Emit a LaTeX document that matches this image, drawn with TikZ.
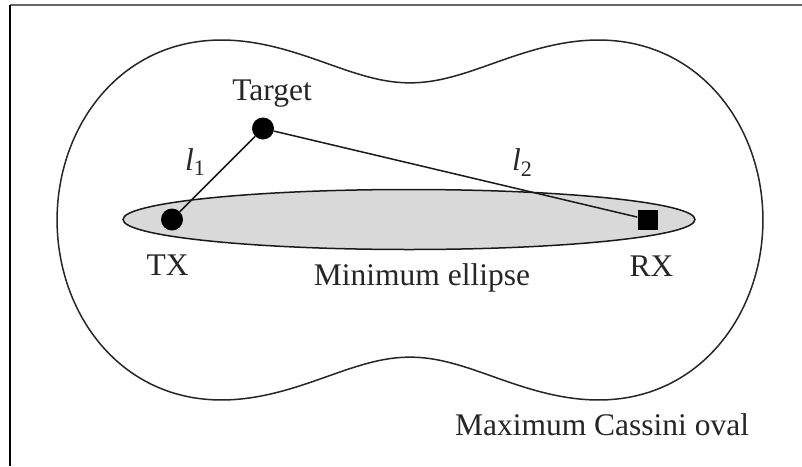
\documentclass[tikz,border=0pt]{standalone}
\usepackage{fontspec}
\setmainfont{Liberation Serif}
\usetikzlibrary{shapes.geometric}
\begin{document}
\begin{tikzpicture}[x=1pt,y=-1pt,
  lbl/.style={font=\fontsize{31.5}{36}\selectfont, text=black!85, inner sep=0pt},
  curve/.style={line width=1.5pt, draw=black!85},
  link/.style={line width=1.5pt, draw=black!90},
  dot/.style={circle, fill=black, minimum size=22pt, inner sep=0pt},
  sq/.style={rectangle, fill=black, minimum size=20pt, inner sep=0pt},
  minell/.style={ellipse, draw=black!90, line width=1.5pt, fill=black!15, minimum width=572pt, minimum height=60pt, inner sep=0pt}]
\useasboundingbox (0,0) rectangle (802,466);
\fill[white] (0,0) rectangle (802,466);
% frame
\draw[black!60, line width=1.6pt] (10,5) -- (802,5);
\draw[black, line width=1.2pt] (10,5) -- (10,466);
% Cassini oval
\draw[curve] plot[domain=0:358.5, samples=240, smooth cycle]
  ({410 + 237.2*sqrt(cos(2*\x)+sqrt(cos(2*\x)^2+0.4738))*cos(\x)},
   {220 + 296.5*sqrt(cos(2*\x)+sqrt(cos(2*\x)^2+0.4738))*sin(\x)});
% minimum ellipse
\node[minell] (ell) at (409,219.5) {};
% points
\node[dot] (tx) at (172,219.5) {};
\node[dot] (target) at (263,128.5) {};
\node[sq] (rx) at (647.5,219.5) {};
\draw[link] (target) -- (tx);
\draw[link] (target) -- (rx);
% labels
\node[lbl, anchor=base] (tlab) at (272,100) {Target};
\node[lbl, anchor=base] (txlab) at (167.5,275) {TX};
\node[lbl, anchor=base] (rxlab) at (651.5,276) {RX};
\node[lbl, anchor=base] (minlab) at (422,285) {Minimum ellipse};
\node[lbl, anchor=base] (maxlab) at (602,435) {Maximum Cassini oval};
\node[lbl, anchor=base west] (l1) at (185,170) {\textit{l}\textsubscript{1}};
\node[lbl, anchor=base west] (l2) at (512,170) {\textit{l}\textsubscript{2}};
\end{tikzpicture}
\end{document}
